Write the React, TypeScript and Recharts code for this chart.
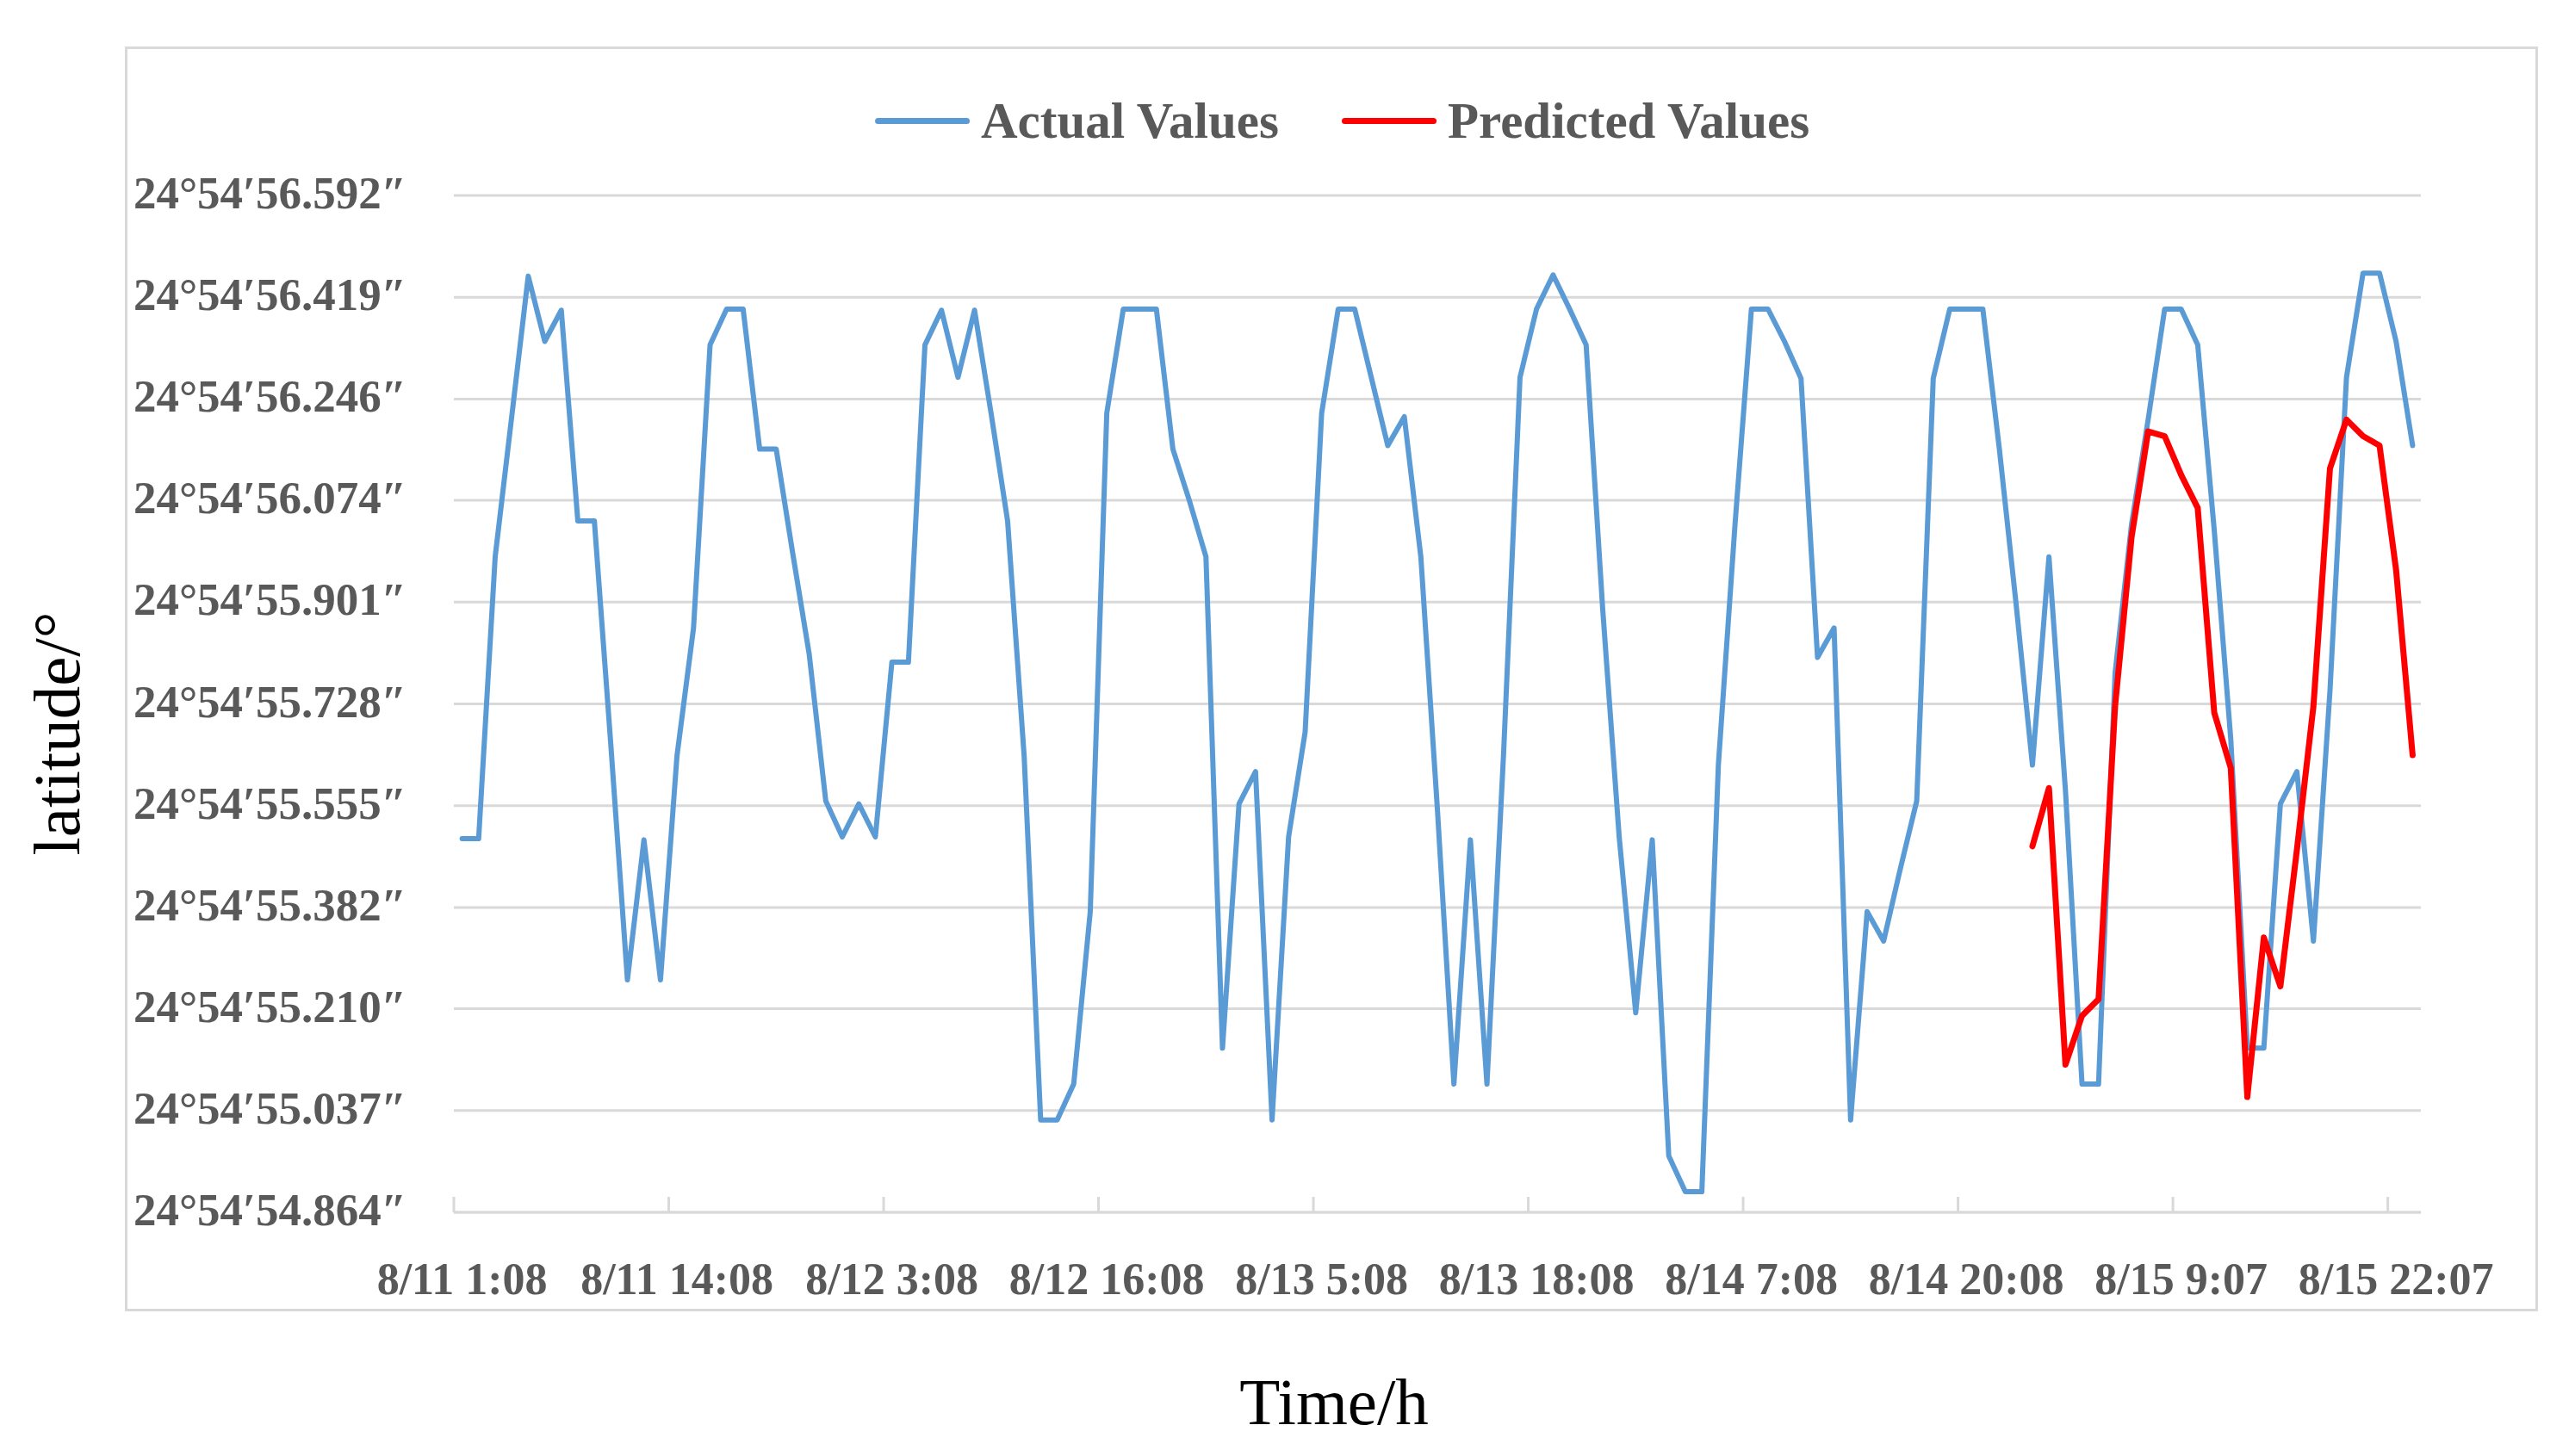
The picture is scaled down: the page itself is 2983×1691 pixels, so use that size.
import { LineChart, Line, XAxis, YAxis, CartesianGrid } from 'recharts'

// latitude seconds part (24°54′xx.xxx″), one value per hour
const actualValues = [
    55.499, 55.499, 55.978, 56.216, 56.455, 56.344, 56.397, 56.039, 56.039, 55.657,
    55.259, 55.497, 55.259, 55.640, 55.857, 56.338, 56.399, 56.399, 56.161, 56.161,
    55.984, 55.812, 55.563, 55.502, 55.558, 55.502, 55.799, 55.799, 56.338, 56.397,
    56.283, 56.397, 56.222, 56.039, 55.640, 55.021, 55.021, 55.082, 55.375, 56.222,
    56.399, 56.399, 56.399, 56.161, 56.073, 55.978, 55.143, 55.558, 55.613, 55.021,
    55.502, 55.680, 56.222, 56.399, 56.399, 56.283, 56.167, 56.216, 55.978, 55.550,
    55.082, 55.497, 55.082, 55.640, 56.283, 56.399, 56.457, 56.399, 56.338, 55.890,
    55.502, 55.203, 55.497, 54.960, 54.899, 54.899, 55.624, 56.030, 56.399, 56.399,
    56.344, 56.281, 55.807, 55.857, 55.021, 55.375, 55.325, 55.447, 55.563, 56.281,
    56.399, 56.399, 56.399, 56.161, 55.901, 55.624, 55.978, 55.580, 55.082, 55.082,
    55.780, 56.034, 56.211, 56.399, 56.399, 56.338, 56.023, 55.668, 55.143, 55.143,
    55.558, 55.613, 55.325, 55.750, 56.283, 56.460, 56.460, 56.344, 56.167,
]

// predictions start at hour index 95
const PRED_START = 95
const predictedValues = [
    55.486, 55.585, 55.115, 55.198, 55.226, 55.724, 56.012, 56.191, 56.183, 56.117,
    56.061, 55.713, 55.619, 55.060, 55.331, 55.248, 55.480, 55.724, 56.128, 56.211,
    56.183, 56.167, 55.956, 55.641,
]

const xTicks = [0, 13, 26, 39, 52, 65, 78, 91, 104, 117]
const xLabels = [
    '8/11 1:08', '8/11 14:08', '8/12 3:08', '8/12 16:08', '8/13 5:08',
    '8/13 18:08', '8/14 7:08', '8/14 20:08', '8/15 9:07', '8/15 22:07',
]
const yTicks = [54.864, 55.037, 55.210, 55.382, 55.555, 55.728, 55.901, 56.074, 56.246, 56.419, 56.592]

const W = 2983
const H = 1691
const PLOT_LEFT = 527
const PLOT_RIGHT = 2811
const PLOT_TOP = 227
const PLOT_BOTTOM = 1408
const N = actualValues.length
const HALF_STEP = (PLOT_RIGHT - PLOT_LEFT) / N / 2

const FONT = '"Liberation Serif", serif'
const GREY = '#595959'
const GRID = '#d9d9d9'
const BLUE = '#5B9BD5'
const RED = '#FF0000'

const data = actualValues.map((v, i) => ({
    i,
    actual: v,
    predicted: i >= PRED_START ? predictedValues[i - PRED_START] : null,
}))

const XTick = ({ x, y, payload }: any) => {
    const idx = xTicks.indexOf(payload.value)
    return (
        <g>
            <line x1={x - HALF_STEP} x2={x - HALF_STEP} y1={y} y2={y - 18} stroke={GRID} strokeWidth={3} />
            <text x={x} y={y + 95} textAnchor="middle" fill={GREY} fontFamily={FONT} fontWeight="bold" fontSize={52}>
                {xLabels[idx]}
            </text>
        </g>
    )
}

const YTick = ({ x, y, payload }: any) => (
    <text x={x} y={y + 15} textAnchor="end" fill={GREY} fontFamily={FONT} fontWeight="bold" fontSize={53}>
        {`24°54′${payload.value.toFixed(3)}″`}
    </text>
)

const LegendItem = ({ color, label, left }: { color: string; label: string; left: number }) => (
    <div style={{ position: 'absolute', left, top: 108, display: 'flex', alignItems: 'center', height: 64 }}>
        <div style={{ width: 110, height: 7, background: color, borderRadius: 4, marginRight: 13 }} />
        <span style={{ fontFamily: FONT, fontWeight: 'bold', fontSize: 59, color: GREY, lineHeight: 1 }}>{label}</span>
    </div>
)

export default function App() {
    return (
        <div style={{ position: 'absolute', left: 0, top: 0, width: W, height: H, background: '#fff' }}>
            {/* chart frame */}
            <div style={{ position: 'absolute', left: 145, top: 54, width: 2802, height: 1469, border: `3px solid ${GRID}`, boxSizing: 'border-box' }} />

            <LineChart
                width={W}
                height={H}
                data={data}
                margin={{ top: PLOT_TOP, right: W - PLOT_RIGHT, bottom: 0, left: 0 }}
                style={{ position: 'absolute', left: 0, top: 0 }}
            >
                <CartesianGrid vertical={false} stroke={GRID} strokeWidth={3} />
                <XAxis
                    type="number"
                    dataKey="i"
                    domain={[-0.5, N - 0.5]}
                    allowDataOverflow
                    ticks={xTicks}
                    interval={0}
                    tick={<XTick />}
                    tickLine={false}
                    tickSize={0}
                    tickMargin={0}
                    axisLine={{ stroke: GRID, strokeWidth: 3 }}
                    height={H - PLOT_BOTTOM}
                />
                <YAxis
                    type="number"
                    domain={[54.864, 56.592]}
                    allowDataOverflow
                    ticks={yTicks}
                    interval={0}
                    tick={<YTick />}
                    tickLine={false}
                    tickSize={0}
                    tickMargin={55}
                    axisLine={false}
                    width={PLOT_LEFT}
                />
                <Line
                    type="linear"
                    dataKey="actual"
                    stroke={BLUE}
                    strokeWidth={6}
                    strokeLinejoin="round"
                    strokeLinecap="round"
                    dot={false}
                    isAnimationActive={false}
                />
                <Line
                    type="linear"
                    dataKey="predicted"
                    stroke={RED}
                    strokeWidth={7}
                    strokeLinejoin="round"
                    strokeLinecap="round"
                    dot={false}
                    connectNulls={false}
                    isAnimationActive={false}
                />
            </LineChart>

            {/* legend */}
            <LegendItem color={BLUE} label="Actual Values" left={1016} />
            <LegendItem color={RED} label="Predicted Values" left={1558} />

            {/* axis titles */}
            <div style={{ position: 'absolute', left: 66, top: 852, transform: 'translate(-50%, -50%) rotate(-90deg)', fontFamily: FONT, fontSize: 77, color: '#000', whiteSpace: 'nowrap', lineHeight: 1 }}>
                latitude/°
            </div>
            <div style={{ position: 'absolute', left: 1549, top: 1590, transform: 'translateX(-50%)', fontFamily: FONT, fontSize: 77, color: '#000', whiteSpace: 'nowrap', lineHeight: 1 }}>
                Time/h
            </div>
        </div>
    )
}
